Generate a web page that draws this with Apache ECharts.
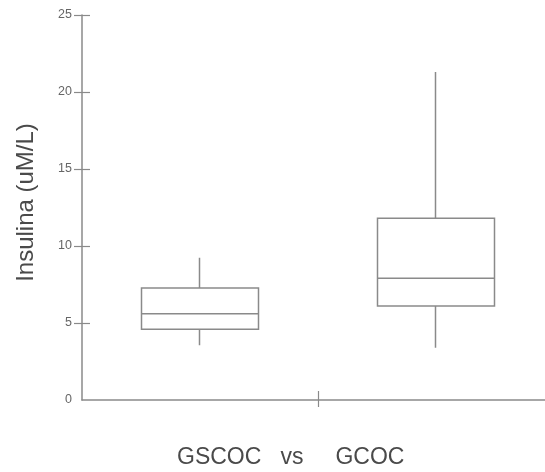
<!DOCTYPE html>
<html>
<head>
<meta charset="utf-8">
<script src="https://cdn.jsdelivr.net/npm/echarts@6/dist/echarts.min.js"></script>
<style>
  html, body { margin: 0; padding: 0; background: #fff; }
  #chart { width: 545px; height: 472px; }
</style>
</head>
<body>
<div id="chart"></div>
<script>
// box plot values
var groups = ['GSCOC', 'GCOC'];
var lowWhisker = [3.55, 3.4];
var q1 = [4.6, 6.1];
var median = [5.6, 7.9];
var q3 = [7.27, 11.8];
var highWhisker = [9.24, 21.3];
var yTicks = [5, 10, 15, 20, 25];
var xTitle = 'GSCOC   vs     GCOC';
var yTitle = 'Insulina (uM/L)';

var lineGray = '#8a8a8a';
var textGray = '#666';

var chart = echarts.init(document.getElementById('chart'));

// candlestick: [open, close, low, high] -> box with plain whiskers (no caps)
var boxData = groups.map(function (g, i) {
    return [q1[i], q3[i], lowWhisker[i], highWhisker[i]];
});
var medData = groups.map(function (g, i) {
    return [median[i], median[i], median[i], median[i]];
});

var option = {
    animation: false,
    title: {
        text: xTitle,
        left: 172,
        top: 441,
        textStyle: {
            fontFamily: 'Liberation Sans',
            fontSize: 23,
            fontWeight: 'normal',
            color: '#4a4a4a'
        }
    },
    grid: { left: 82, top: 15, width: 472, height: 385, outerBoundsMode: 'none' },
    xAxis: [{
        type: 'category',
        data: groups,
        boundaryGap: true,
        axisLine: { lineStyle: { color: lineGray, width: 1.5 } },
        axisTick: { show: false },
        axisLabel: { show: false },
        splitLine: { show: false }
    }, {
        type: 'value',
        min: 0,
        max: 2,
        position: 'bottom',
        offset: -9,
        axisLine: { show: false },
        axisTick: {
            show: true,
            length: 16,
            customValues: [1],
            lineStyle: { color: lineGray, width: 1.2 }
        },
        axisLabel: { show: false },
        splitLine: { show: false }
    }],
    yAxis: [{
        type: 'value',
        min: 0,
        max: 25,
        interval: 5,
        name: yTitle,
        nameLocation: 'middle',
        nameGap: 44,
        nameTextStyle: {
            fontFamily: 'Liberation Sans',
            fontSize: 24,
            color: '#4a4a4a',
            padding: [0, 0, 0, 10]
        },
        axisLine: { show: true, lineStyle: { color: lineGray, width: 1.5 } },
        axisTick: { show: false },
        axisLabel: {
            margin: 10,
            fontFamily: 'Liberation Sans',
            fontSize: 12.5,
            color: textGray
        },
        splitLine: { show: false }
    }, {
        type: 'value',
        min: 0,
        max: 25,
        interval: 5,
        position: 'left',
        offset: -8,
        axisLine: { show: false },
        axisTick: {
            show: true,
            length: 16,
            customValues: yTicks,
            lineStyle: { color: lineGray, width: 1.2 }
        },
        axisLabel: { show: false },
        splitLine: { show: false }
    }],
    series: [{
        name: 'box',
        type: 'candlestick',
        barWidth: '50%',
        data: boxData,
        itemStyle: {
            color: '#fff',
            color0: '#fff',
            borderColor: lineGray,
            borderColor0: lineGray,
            borderWidth: 1.5
        }
    }, {
        name: 'median',
        type: 'candlestick',
        barWidth: '50%',
        data: medData,
        itemStyle: {
            color: lineGray,
            color0: lineGray,
            borderColor: lineGray,
            borderColor0: lineGray,
            borderWidth: 1.5
        }
    }]
};

chart.setOption(option);
</script>
</body>
</html>
